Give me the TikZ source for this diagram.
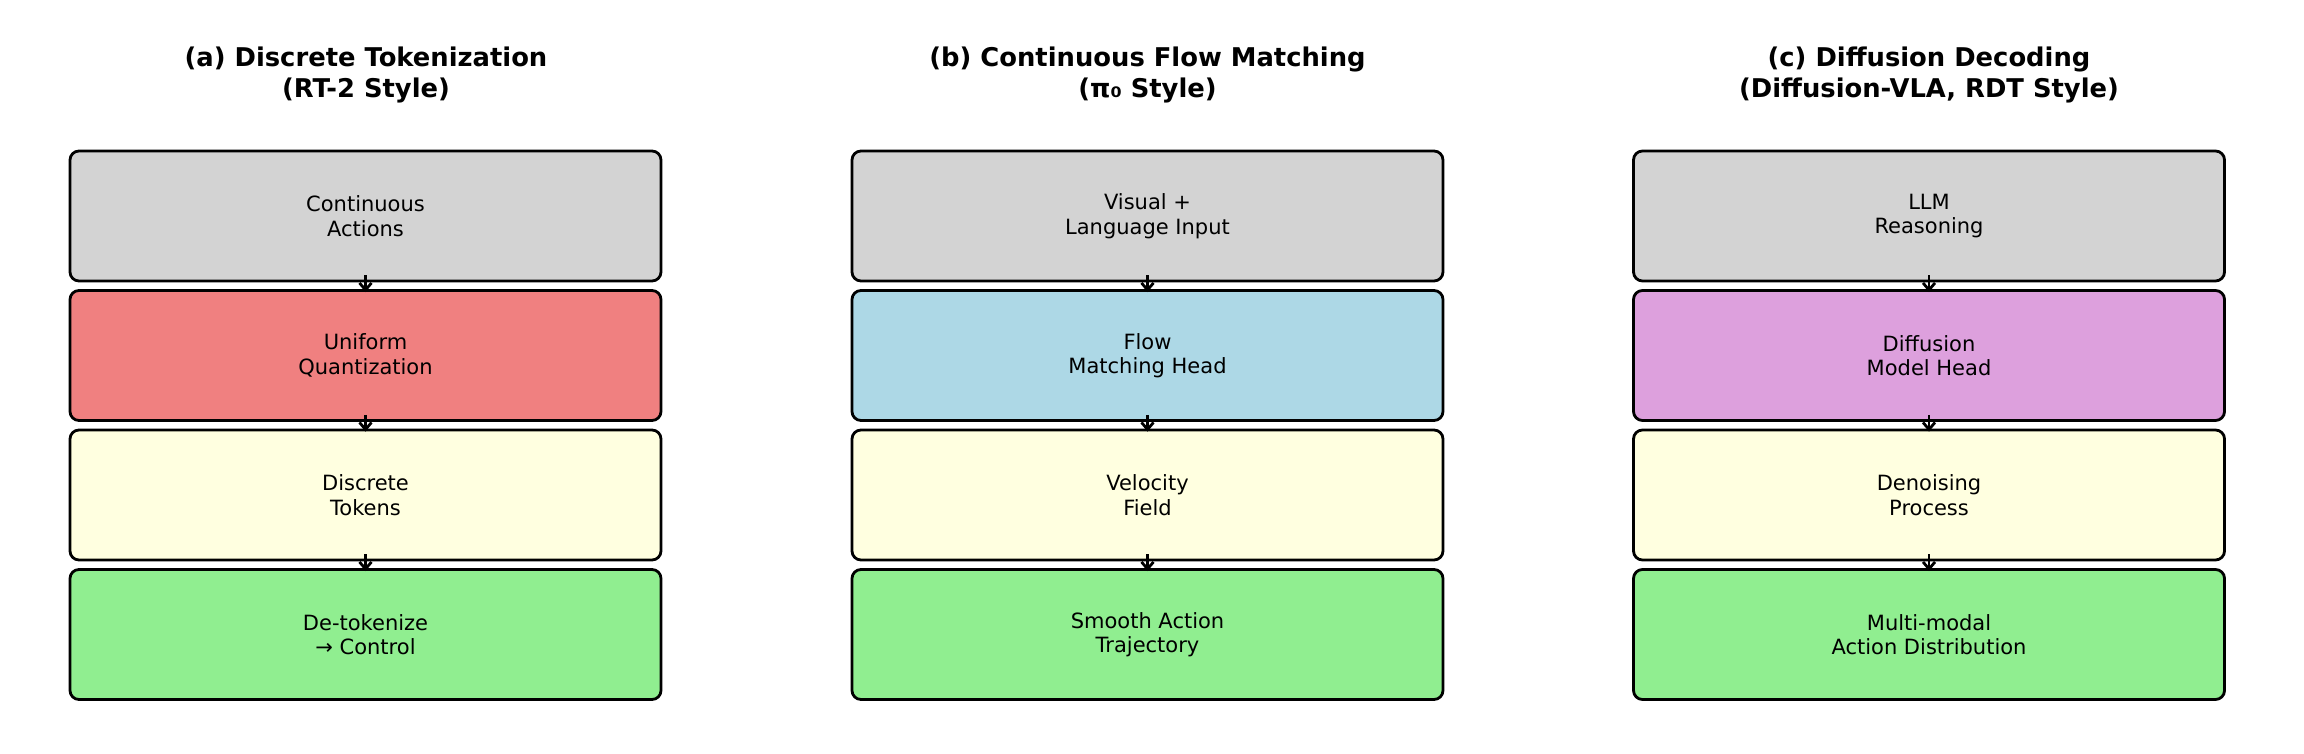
\documentclass[tikz,border=0pt]{standalone}
\usepackage{fontspec}
\setmainfont{DejaVu Sans}
\usetikzlibrary{arrows.meta}
\definecolor{cgray}{HTML}{D3D3D3}
\definecolor{ccoral}{HTML}{F08080}
\definecolor{cyellow}{HTML}{FFFFE0}
\definecolor{cgreen}{HTML}{90EE90}
\definecolor{cblue}{HTML}{ADD8E6}
\definecolor{cplum}{HTML}{DDA0DD}
\tikzset{
  stagebox/.style={draw=black, line width=2.8pt, rounded corners=9pt,
    minimum width=591pt, minimum height=130pt, align=center,
    font=\fontsize{21}{24.5}\selectfont, inner sep=0pt},
  paneltitle/.style={align=center, font=\fontsize{25.8}{30.5}\selectfont\bfseries},
  flowarrow/.style={draw=black, line width=2.8pt,
    -{Straight Barb[length=7pt,width=12pt,line width=2.8pt]}}
}
\begin{document}
\begin{tikzpicture}[x=1pt,y=1pt]
\useasboundingbox[fill=white] (0,0) rectangle (2304,754);
% titles
\node[paneltitle] (ta) at (366,679) {(a) Discrete Tokenization\\(RT-2 Style)};
\node[paneltitle] (tb) at (1147.5,679) {(b) Continuous Flow Matching\\(π₀ Style)};
\node[paneltitle] (tc) at (1929,679) {(c) Diffusion Decoding\\(Diffusion-VLA, RDT Style)};
% panel a
\node[stagebox, fill=cgray]   (a1) at (365.5,538) {Continuous\\Actions};
\node[stagebox, fill=ccoral]  (a2) at (365.5,398.5) {Uniform\\Quantization};
\node[stagebox, fill=cyellow] (a3) at (365.5,259) {Discrete\\Tokens};
\node[stagebox, fill=cgreen]  (a4) at (365.5,119.5) {De-tokenize\\→ Control};
% panel b
\node[stagebox, fill=cgray]   (b1) at (1147.5,538) {Visual +\\Language Input};
\node[stagebox, fill=cblue]   (b2) at (1147.5,398.5) {Flow\\Matching Head};
\node[stagebox, fill=cyellow] (b3) at (1147.5,259) {Velocity\\Field};
\node[stagebox, fill=cgreen]  (b4) at (1147.5,119.5) {Smooth Action\\Trajectory};
% panel c
\node[stagebox, fill=cgray]   (c1) at (1929,538) {LLM\\Reasoning};
\node[stagebox, fill=cplum]   (c2) at (1929,398.5) {Diffusion\\Model Head};
\node[stagebox, fill=cyellow] (c3) at (1929,259) {Denoising\\Process};
\node[stagebox, fill=cgreen]  (c4) at (1929,119.5) {Multi-modal\\Action Distribution};
% arrows
\foreach \p in {a,b,c}{
  \foreach \i/\j in {1/2,2/3,3/4}{
    \draw[flowarrow] ([yshift=7pt]\p\i.south) -- ([yshift=-3pt]\p\j.north);
  }
}
\end{tikzpicture}
\end{document}
